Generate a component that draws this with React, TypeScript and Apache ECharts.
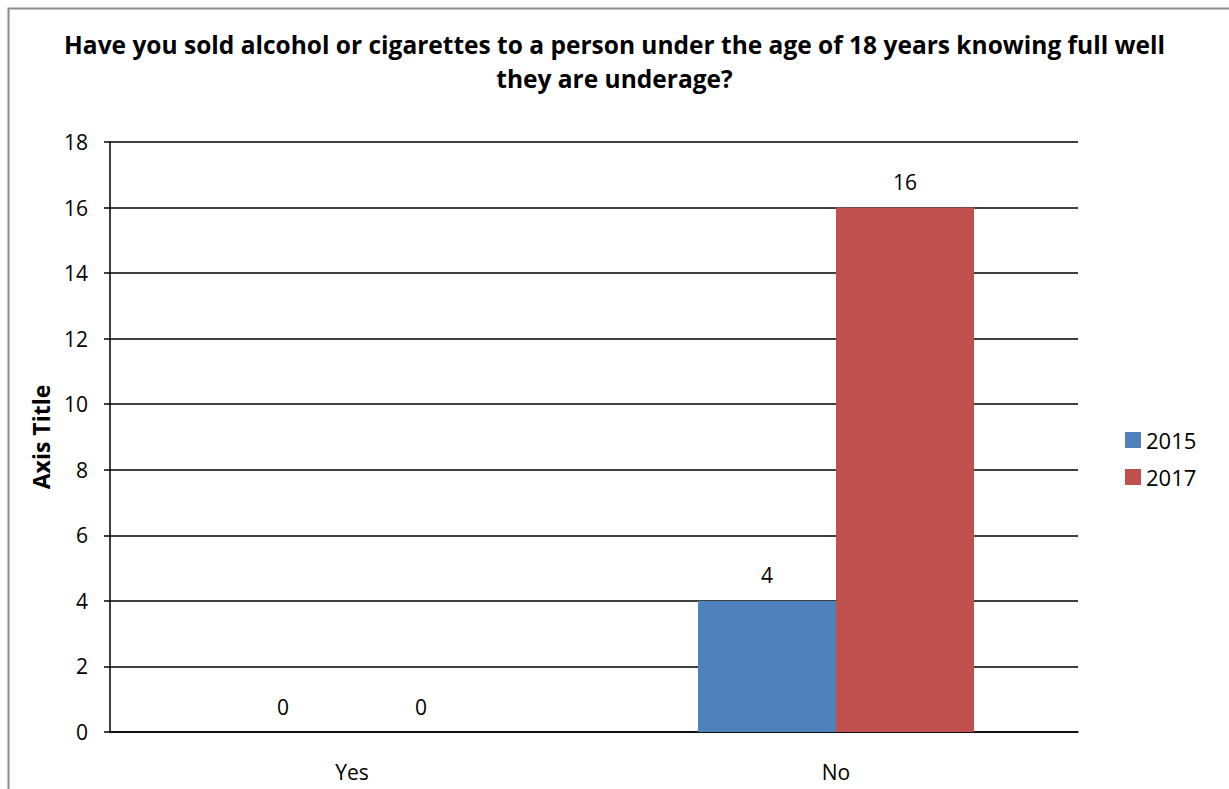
import React, { useEffect, useRef } from "react";
import * as echarts from "echarts";

const categories = ["Yes", "No"];
const seriesNames = ["2015", "2017"];
const values2015 = [0, 4];
const values2017 = [0, 16];
const colors = ["#4F81BD", "#C0504D"];
const titleText =
  "Have you sold alcohol or cigarettes to a person under the age of 18 years knowing full well\nthey are underage?";

export default function App() {
  const ref = useRef<HTMLDivElement>(null);
  useEffect(() => {
    const chart = echarts.init(ref.current!, null, { renderer: "svg" });
    const font = "'Open Sans', sans-serif";
    chart.setOption({
      animation: false,
      textStyle: { fontFamily: font },
      graphic: [
        {
          type: "rect",
          shape: { x: 8.5, y: 8.5, width: 1400, height: 1000 },
          style: { fill: "none", stroke: "#8c8c8c", lineWidth: 2 },
          silent: true,
        },
      ],
      title: {
        text: titleText,
        left: "center",
        top: 22,
        textStyle: {
          fontFamily: font,
          fontWeight: "bold",
          fontSize: 24.5,
          lineHeight: 34,
          color: "#000",
        },
      },
      legend: {
        orient: "vertical",
        left: 1120,
        top: 424,
        itemWidth: 16,
        itemHeight: 16,
        itemGap: 15,
        icon: "rect",
        textStyle: { fontSize: 22, color: "#000", fontFamily: font },
        data: seriesNames,
      },
      grid: { left: 110, right: 151, top: 142, bottom: 57, containLabel: false },
      xAxis: {
        type: "category",
        data: categories,
        axisLine: { lineStyle: { color: "#000", width: 1.5 } },
        axisTick: { show: false },
        axisLabel: { color: "#000", fontSize: 21, margin: 29, fontFamily: font },
      },
      yAxis: {
        type: "value",
        min: 0,
        max: 18,
        interval: 2,
        name: "Axis Title",
        nameLocation: "middle",
        nameGap: 58,
        nameRotate: 90,
        nameTextStyle: { fontWeight: "bold", fontSize: 23, color: "#000", fontFamily: font },
        axisLine: { show: true, lineStyle: { color: "#000", width: 1.5 } },
        axisTick: { show: true, length: 6, lineStyle: { color: "#000", width: 1.5 } },
        axisLabel: { color: "#000", fontSize: 21, margin: 22, fontFamily: font },
        splitLine: { lineStyle: { color: "#000", width: 1.5 } },
      },
      series: [
        {
          name: seriesNames[0],
          type: "bar",
          data: values2015,
          barWidth: 138,
          barGap: "0%",
          itemStyle: { color: colors[0] },
          label: { show: true, position: "top", distance: 15, color: "#000", fontSize: 21, fontFamily: font },
        },
        {
          name: seriesNames[1],
          type: "bar",
          data: values2017,
          barWidth: 138,
          barGap: "0%",
          itemStyle: { color: colors[1] },
          label: { show: true, position: "top", distance: 15, color: "#000", fontSize: 21, fontFamily: font },
        },
      ],
    });
    return () => chart.dispose();
  }, []);
  return (
    <div
      ref={ref}
      style={{ position: "absolute", left: 0, top: 0, width: 1229, height: 789 }}
    />
  );
}
